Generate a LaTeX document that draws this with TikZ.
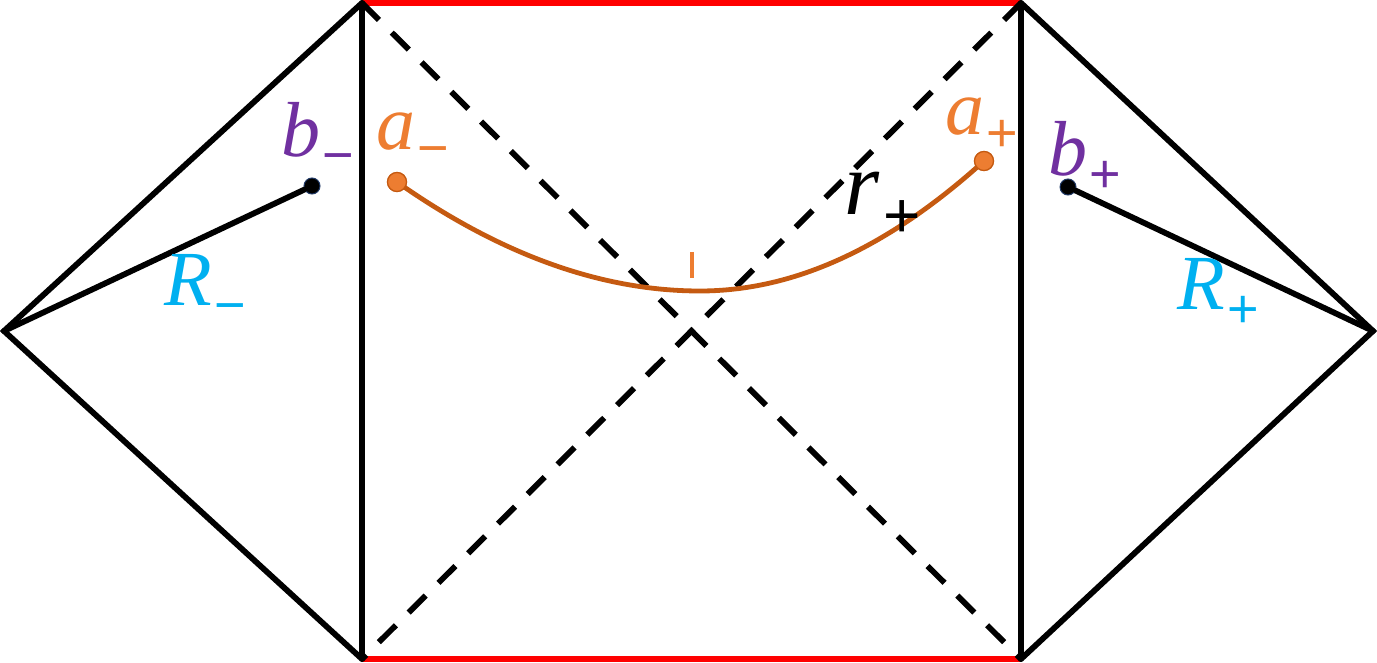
\documentclass[tikz,border=0pt]{standalone}
\usepackage{fontspec}
\setmainfont{Liberation Serif}
\newfontfamily\subfont{Liberation Sans}
\definecolor{redline}{HTML}{FF0000}
\definecolor{orangeA}{HTML}{ED7D31}
\definecolor{orangeC}{HTML}{C55A11}
\definecolor{purpleB}{HTML}{7030A0}
\definecolor{cyanR}{HTML}{00B0F0}
\definecolor{navyO}{HTML}{1F3864}
\newcommand{\symlab}[2]{{\itshape #1}\kern1pt\raisebox{-0.22em}{\subfont\fontsize{27}{29}\selectfont #2}}
\newcommand{\biglab}[2]{{\itshape #1}\kern2pt\raisebox{-0.25em}{\subfont\fontsize{32}{34}\selectfont #2}}
\tikzset{
  edge/.style={line width=2.9pt, line cap=round, black},
  horizon/.style={line width=2.9pt, black, dash pattern=on 12pt off 9pt},
  sing/.style={line width=3pt, redline},
  lbl/.style={inner sep=0pt, font=\fontsize{39}{44}\selectfont},
  blbl/.style={inner sep=0pt, font=\fontsize{45}{50}\selectfont},
  adot/.style={circle, fill=orangeA, draw=orangeC, line width=0.6pt, minimum size=9.5pt, inner sep=0pt},
  bdot/.style={circle, fill=black, draw=navyO, line width=0.5pt, minimum size=8pt, inner sep=0pt},
}
\begin{document}
\begin{tikzpicture}[x=0.5pt,y=-0.5pt]
\useasboundingbox (0,0) rectangle (1377,663);
% vertices
\coordinate (L) at (4,331);
\coordinate (R) at (1373,331);
\coordinate (TL) at (362,3);
\coordinate (BL) at (362,659);
\coordinate (TR) at (1021,3);
\coordinate (BR) at (1021,659);
% singularities
\draw[sing] (TL) -- (TR);
\draw[sing] (BL) -- (BR);
% horizons
\draw[horizon] (TL) -- (BR);
\draw[horizon] (TR) -- (BL);
% diamonds and boundaries
\draw[edge] (TL) -- (L) -- (BL);
\draw[edge] (TR) -- (R) -- (BR);
\draw[edge] (TL) -- (BL);
\draw[edge] (TR) -- (BR);
% points
\node[bdot] (bm) at (312,186) {};
\node[bdot] (bp) at (1068,187) {};
\draw[edge] (bm) -- (L);
\draw[edge] (bp) -- (R);
\node[adot] (am) at (397,182) {};
\node[adot] (ap) at (984,161) {};
\coordinate (low) at (700,291);
\draw[orangeC, line width=2.4pt] (am.center) .. controls (498,253) and (599,291) .. (low)
   .. controls (795,291) and (889,247) .. (ap.center);
\node[adot] at (am) {};
\node[adot] at (ap) {};
% tick
\coordinate (t1) at (692,252);
\coordinate (t2) at (692,278);
\draw[orangeA, line width=2.2pt] (t1) -- (t2);
% labels
\node[lbl, text=purpleB] (lbm) at (318,138) {\symlab{b}{−}};
\node[lbl, text=orangeA] (lam) at (413,140) {\symlab{a}{−}};
\node[lbl, text=orangeA] (lap) at (982,125) {\symlab{a}{+}};
\node[lbl, text=purpleB] (lbp) at (1085,157) {\symlab{b}{+}};
\node[blbl, text=black] (lr) at (883,205) {\biglab{r}{+}};
\node[lbl, text=cyanR] (lRm) at (205,289) {\symlab{R}{−}};
\node[lbl, text=cyanR] (lRp) at (1218,293) {\symlab{R}{+}};
\end{tikzpicture}
\end{document}
